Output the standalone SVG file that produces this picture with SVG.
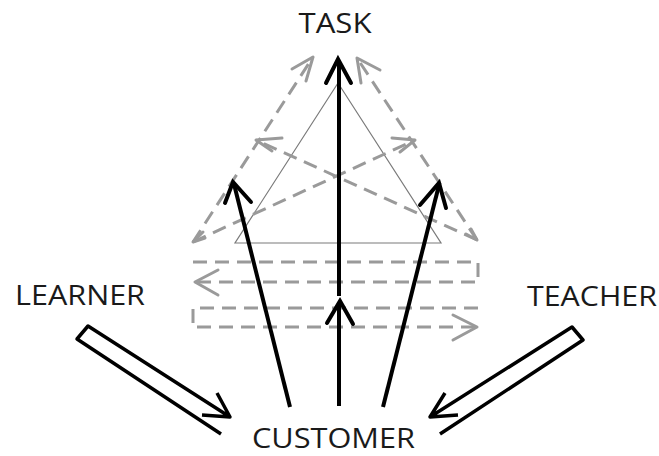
<svg xmlns="http://www.w3.org/2000/svg" width="659" height="456" viewBox="0 0 659 456">
  <style>
    .label { font-family: "Open Sans", "Liberation Sans", sans-serif; font-size: 28px; fill: #1a1a1a; }
    .dash { fill: none; stroke: #9a9a9a; stroke-width: 3; stroke-dasharray: 14 8; }
    .ghead { fill: none; stroke: #9a9a9a; stroke-width: 3; stroke-linecap: round; stroke-linejoin: round; }
    .thin { fill: none; stroke: #7a7a7a; stroke-width: 1.2; }
    .solid { fill: none; stroke: #000; stroke-width: 4; stroke-linecap: butt; }
    .bhead { fill: none; stroke: #000; stroke-width: 4; stroke-linecap: round; stroke-linejoin: miter; }
    .hollow { fill: none; stroke: #000; stroke-width: 3.5; stroke-linejoin: round; stroke-linecap: butt; }
  </style>

  <!-- nodes -->
  <g id="task">
    <text class="label" x="335" y="33" text-anchor="middle" textLength="73" lengthAdjust="spacingAndGlyphs">TASK</text>
  </g>
  <g id="learner">
    <text class="label" x="15" y="305" textLength="130" lengthAdjust="spacingAndGlyphs">LEARNER</text>
  </g>
  <g id="teacher">
    <text class="label" x="527" y="306" textLength="130" lengthAdjust="spacingAndGlyphs">TEACHER</text>
  </g>
  <g id="customer">
    <text class="label" x="252" y="448" textLength="163" lengthAdjust="spacingAndGlyphs">CUSTOMER</text>
  </g>

  <!-- connectors -->
  <g id="connectors">
    <!-- thin reference triangle -->
    <path class="thin" d="M338,83 L235,243 L441,243 Z"/>

    <!-- dashed outer edges and crossing lines -->
    <path class="dash" d="M193,242 L313,57"/>
    <path class="dash" d="M477,240 L357,58"/>
    <path class="dash" d="M193,242 L415,140"/>
    <path class="dash" d="M477,240 L256,140"/>
    <path class="ghead" d="M292,69 L313,57 L306,81"/>
    <path class="ghead" d="M380,70 L357,58 L361,83"/>
    <path class="ghead" d="M282,138 L256,140 L272,151"/>
    <path class="ghead" d="M392,138 L415,140 L400,152"/>
    <path class="ghead" d="M203,232 L193,242 L205,238"/>
    <path class="ghead" d="M466,234 L477,240 L471,229"/>

    <!-- dashed horizontal loops -->
    <path class="dash" d="M193,262 H478 V282 H196"/>
    <path class="ghead" d="M218,270 L195,282 L218,295"/>
    <path class="dash" d="M478,308 H193 V327 H476"/>
    <path class="ghead" d="M453,315 L477,327 L453,340"/>

    <!-- black arrows from CUSTOMER toward TASK -->
    <path class="solid" d="M339,406 V302"/>
    <path class="solid" d="M339,296 V62"/>
    <path class="bhead" d="M326,83 L338,59 L351,83"/>
    <path class="bhead" d="M327,323 L340,301 L353,324"/>
    <path class="solid" d="M290,407 L234,184"/>
    <path class="bhead" d="M225,203 L233,182 L251,202"/>
    <path class="solid" d="M383,407 L439,185"/>
    <path class="bhead" d="M420,205 L439,183 L446,208"/>

    <!-- hollow arrows from LEARNER and TEACHER to CUSTOMER -->
    <path class="hollow" d="M221,434 L77,339 L88,326 L230,417 M202,415 L230,417 L217,393"/>
    <path class="hollow" d="M440,434 L583,340 L572,327 L430,417 M458,415 L430,417 L445,393"/>
  </g>
</svg>
